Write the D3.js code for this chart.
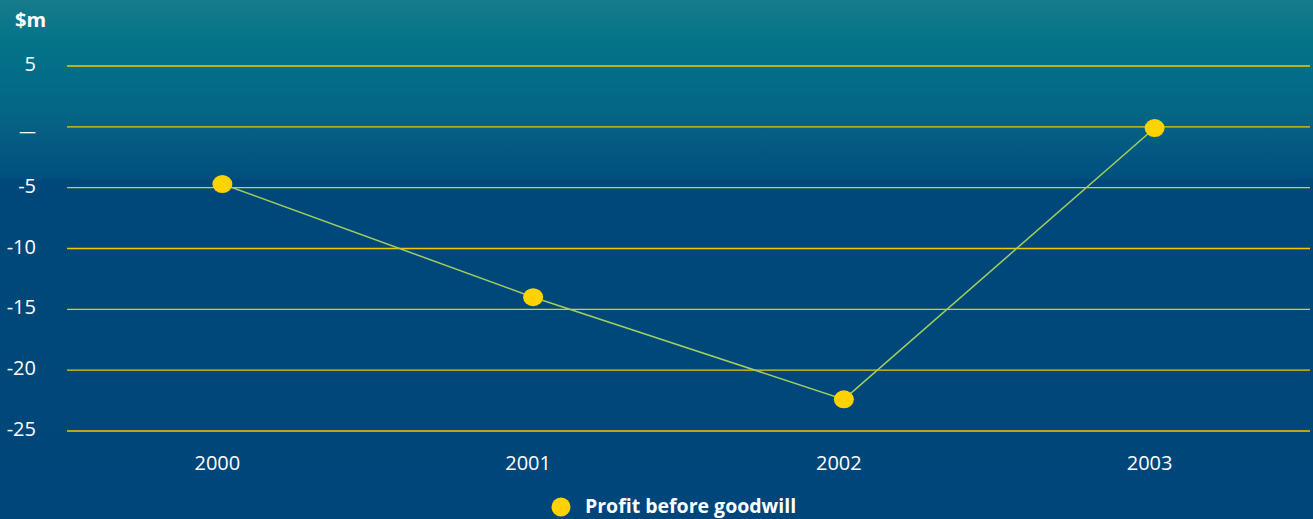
<!DOCTYPE html>
<html>
<head>
<meta charset="utf-8">
<script src="https://cdn.jsdelivr.net/npm/d3@7"></script>
<style>
  html, body { margin: 0; padding: 0; background: #00467a; }
  svg { display: block; }
  text { font-family: "Open Sans", "Noto Sans", sans-serif; fill: #ffffff; }
</style>
</head>
<body>
<div id="chart-container"></div>
<script>
// chart data
const years = ["2000", "2001", "2002", "2003"];
const profit = [-4.7, -14.0, -22.4, -0.1];
const yTicks = [5, 0, -5, -10, -15, -20, -25];
const yTickLabels = ["5", "\u2014", "-5", "-10", "-15", "-20", "-25"];
const seriesName = "Profit before goodwill";
const unitLabel = "$m";

const width = 1313;
const height = 519;

const svg = d3.select("#chart-container")
  .append("svg")
  .attr("width", width)
  .attr("height", height);

// background gradient (teal at top fading to dark blue)
const defs = svg.append("defs");
const grad = defs.append("linearGradient")
  .attr("id", "bg")
  .attr("x1", 0).attr("y1", 0).attr("x2", 0).attr("y2", 1);
grad.append("stop").attr("offset", "0%").attr("stop-color", "#187b8b");
grad.append("stop").attr("offset", "8%").attr("stop-color", "#02748a");
grad.append("stop").attr("offset", "22%").attr("stop-color", "#056584");
grad.append("stop").attr("offset", "34%").attr("stop-color", "#01507f");
grad.append("stop").attr("offset", "35%").attr("stop-color", "#00487a");
grad.append("stop").attr("offset", "100%").attr("stop-color", "#00467a");

svg.append("rect")
  .attr("width", width)
  .attr("height", height)
  .attr("fill", "url(#bg)");

// scales
const x = d3.scaleBand()
  .domain(years)
  .range([67, 1310]);

const y = d3.scaleLinear()
  .domain([-25, 5])
  .range([431, 66]);

// gridlines
svg.append("g")
  .selectAll("line")
  .data(yTicks)
  .enter()
  .append("line")
  .attr("x1", 67)
  .attr("x2", 1310)
  .attr("y1", d => y(d))
  .attr("y2", d => y(d))
  .attr("stroke", "#f0c800")
  .attr("stroke-width", 1.4);

// y axis labels
svg.append("g")
  .selectAll("text")
  .data(yTicks)
  .enter()
  .append("text")
  .attr("x", 36)
  .attr("y", d => y(d) + (d === 0 ? 10 : 5))
  .attr("text-anchor", "end")
  .style("font-size", d => d === 0 ? "17px" : "20px")
  .text((d, i) => yTickLabels[i]);

svg.append("text")
  .attr("x", 15)
  .attr("y", 27)
  .style("font-size", "20px")
  .style("font-weight", "bold")
  .text(unitLabel);

// x axis labels
svg.append("g")
  .selectAll("text")
  .data(years)
  .enter()
  .append("text")
  .attr("x", d => x(d) + x.bandwidth() / 2 - 5)
  .attr("y", 470)
  .attr("text-anchor", "middle")
  .style("font-size", "20px")
  .text(d => d);

// line
const line = d3.line()
  .x((d, i) => x(years[i]) + x.bandwidth() / 2)
  .y(d => y(d));

svg.append("path")
  .datum(profit)
  .attr("d", line)
  .attr("fill", "none")
  .attr("stroke", "#9fd05c")
  .attr("stroke-width", 1.5);

// markers
svg.append("g")
  .selectAll("ellipse")
  .data(profit)
  .enter()
  .append("ellipse")
  .attr("cx", (d, i) => x(years[i]) + x.bandwidth() / 2)
  .attr("cy", d => y(d))
  .attr("rx", 10)
  .attr("ry", 9)
  .attr("fill", "#ffd200");

// legend
svg.append("circle")
  .attr("cx", 561)
  .attr("cy", 507)
  .attr("r", 9.5)
  .attr("fill", "#ffd200");

svg.append("text")
  .attr("x", 585)
  .attr("y", 513)
  .style("font-size", "19.5px")
  .style("font-weight", "bold")
  .text(seriesName);
</script>
</body>
</html>
